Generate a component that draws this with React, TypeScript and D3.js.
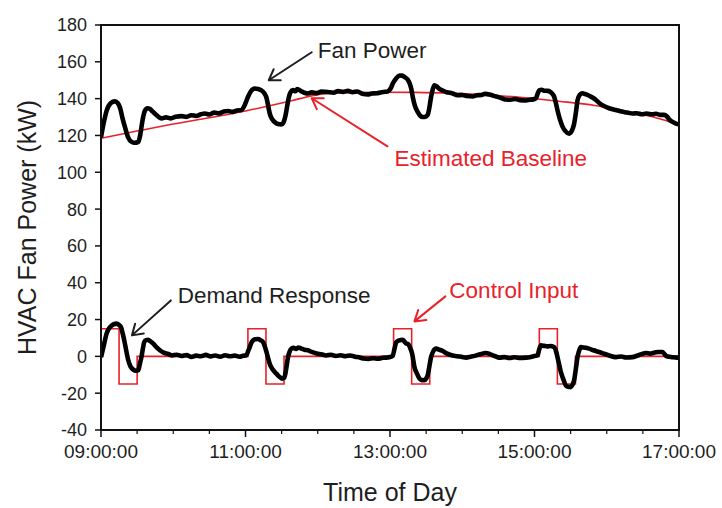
import React from "react";
import * as d3 from "d3";

// Minutes after 09:00 and values (kW)
const fanPower: [number, number][] = [
  [0,119],[2,126],[4.7,133.5],[8,137.5],[11.6,138.5],[14,137.5],[15.8,135],[18,129],[19.9,124.5],[22.5,119],[25.5,116.5],[28,116],[30.9,116.5],[32.5,120],[33.7,125],[35,130],[36.5,133.5],[38.5,134.8],[40.6,134.5],[42.5,133.2],[44.8,131.8],[47.5,130.2],[50.3,129.3],[54,129.8],[58,129.3],[62,130.2],[66.9,130.5],[71,130.1],[75,131],[79,130.6],[83,131.5],[86.2,131.9],[90,131.4],[94,132.4],[98,132],[102,133],[105.5,133.3],[109,132.8],[113,133.6],[116.6,133.8],[119,136],[122.1,141],[124.5,144],[127.6,145.5],[130.5,145.3],[133.2,144.5],[135.5,143],[137.4,140.5],[139,135.5],[140.1,132],[142,129],[144.2,127.3],[147,126.2],[149.8,126],[151.5,127],[153.1,130.4],[154.5,135.5],[155.9,140.5],[157.5,143.5],[159.4,144.6],[161.5,144],[163,145.2],[166.4,144],[169,143.2],[171.9,142.8],[175,143.4],[179,143],[183,143.8],[188.4,143.6],[193,143.2],[197,144.1],[201,143.7],[205,144.2],[209,143.5],[213,143.9],[217,142.6],[221.6,142.3],[225,142.8],[229,142.9],[233,143.5],[236,143.7],[238.2,144],[240.5,145.5],[242.5,148.5],[245.1,151],[248,152.6],[250,152.5],[252,151.8],[254.8,150.2],[256.5,148],[257.6,145.5],[258.9,140.9],[260.5,136.5],[263,132.8],[265,130.8],[267.3,130],[269.5,130.2],[271.3,131.2],[272.8,135.5],[274.1,140.9],[275.5,145],[276.9,147.2],[279,146.5],[281,145.3],[283.8,144.4],[287,143.5],[290,143.2],[292,142.8],[296,141.8],[300,142],[304,141.4],[308.6,141.2],[312,141.8],[316,142],[319,142.6],[322.5,142.3],[326,141.5],[330,140.8],[333,140.2],[336.3,139.5],[340,139.4],[344,139.8],[348,139.2],[352.9,139],[356,139.4],[359,139.6],[361.2,140.2],[362.5,142.5],[363.9,144.5],[366,144.8],[368,144.3],[370.8,144.2],[373,143.8],[375,142.5],[376.4,140.9],[377.8,137.5],[379.1,133.7],[381,129],[383.3,124.8],[385.5,122.5],[388.8,121],[391,122.5],[392.9,126.4],[394.5,133],[395.7,139],[397.5,142],[399.8,142.9],[402,142.5],[405,141.7],[408.1,140.6],[411,139.3],[413.5,137.8],[416.4,136.4],[419,135.6],[422,134.8],[425,134.2],[427.5,133.8],[431,133.2],[435,132.6],[438,132.3],[441.3,131.9],[445,132.1],[449,131.5],[453,131.9],[457.9,131.5],[461,131.8],[464,131.2],[467.6,131.2],[470,130.3],[472,128.6],[474.5,127.4],[477,126.6],[480,126]
];

const estimatedBaseline: [number, number][] = [
  [0,118.5],[30,122.4],[60,126.2],[90,129.6],[120,133.3],[150,137.6],[165,140],[180,142.2],[200,143.2],[230,143.5],[260,143.4],[290,143],[320,142],[350,140.6],[380,138.6],[410,136.3],[440,132.5],[460,129.8],[480,125.8]
];

const demandResponse: [number, number][] = [
  [0,-0.5],[2,5],[4.7,12.5],[7,15.5],[8.9,16.8],[11,17.6],[13,17.8],[15,17],[16.6,15.8],[18,12.5],[19.3,8.7],[21,3],[22.6,-2],[24.5,-5.5],[26.8,-7.2],[29,-7.8],[30.9,-7.6],[32.3,-4],[33.7,0],[35,5],[35.9,7.8],[37.5,8.8],[39.2,9],[41,8.2],[43.4,6.9],[46,5],[48.9,3.3],[52,2],[55.8,1.3],[59,0.5],[63,0.9],[67,0.2],[71,0.7],[75,-0.3],[79,0.4],[83,0.1],[87,0.8],[91,0],[95,0.5],[99,-0.2],[103,0.6],[107,0.1],[111,0.4],[115,-0.2],[118,0.3],[120.8,0.6],[122,2.5],[123.5,5],[125,7.5],[126.3,8.7],[128,9.3],[130.4,9.4],[132.5,8.8],[134.5,7.8],[136,5.5],[137.4,2.4],[138.8,-1],[140.1,-4],[142.5,-7],[145.7,-9.4],[148,-11],[150.3,-12.1],[152,-11.8],[153.1,-9.4],[154.2,-5],[155.3,-0.4],[156.6,2.5],[158.1,4.2],[160,4.6],[162,4],[164,4.8],[166.4,4.2],[169,3.6],[171.9,3.3],[175,2.4],[179,1.6],[183,1.1],[187,0.5],[191,0.9],[195,0.2],[199,0.6],[203,0.1],[207,0.5],[211,-0.2],[215,-0.6],[218,-1.2],[222,-1.4],[226,-1],[230,-1.3],[234,-0.8],[238,-0.6],[241,-0.2],[242.3,0.3],[243.7,4],[245.1,7.6],[247,8.6],[248.5,8.8],[250.6,9],[252,8],[253.4,7],[255,6.7],[256.5,5],[258.4,1.4],[260.3,-5.8],[262.5,-9.5],[264.5,-12.1],[266.5,-12.9],[268.6,-13],[270,-12],[271.3,-10.3],[272.8,-5],[274.1,-0.4],[276,2.8],[278.3,4.2],[281,3.6],[283.8,2.9],[287,1.6],[292,0.5],[296,0.1],[300,-0.4],[303.2,-0.7],[307,-0.2],[311,0.4],[315,1.2],[319.7,1.8],[323,1.2],[327,0.2],[330.8,-0.7],[335,-0.4],[339,-0.9],[343,-0.5],[347,-0.8],[352.9,-0.7],[357,-0.3],[360,0.2],[362.5,0.5],[363.8,3.5],[365.3,6],[368,5.7],[370.8,5.4],[373,5.6],[376.4,5],[378,2.5],[379.1,-0.4],[380.5,-4.5],[381.9,-8.5],[384,-12.5],[386,-15.8],[388,-16.5],[390.2,-16.7],[391.5,-15.5],[392.9,-13],[394.3,-7],[395.7,-0.4],[397,3],[398.5,5],[401,4.8],[405.4,4.2],[409,3.3],[413.7,2.4],[418,1.4],[422,0.5],[427.5,-0.4],[432,-0.1],[436,-0.6],[441.3,-0.4],[445,0.3],[449,1.2],[452.4,1.8],[456,1.5],[460,2.1],[463,2.4],[466.2,2.4],[468,1.2],[469.8,0],[472,-0.2],[475,-0.5],[478.6,-0.7],[480,-0.8]
];

const controlTimes = [0, 0, 15, 30, 122, 137, 152, 243, 258, 273, 364, 379, 394, 480];
const controlValues = [0, 15, -15, 0, 15, -15, 0, 15, -15, 0, 15, -15, 0, 0];

const yTicks = [-40, -20, 0, 20, 40, 60, 80, 100, 120, 140, 160, 180];
const xMajorTicks = [0, 120, 240, 360, 480];
const xMajorLabels = ["09:00:00", "11:00:00", "13:00:00", "15:00:00", "17:00:00"];
const xMinorTicks = [30, 60, 90, 150, 180, 210, 270, 300, 330, 390, 420, 450];

const RED = "#e8222a";
const INK = "#1e1e1e";
const FONT = "'Liberation Sans', Arial, sans-serif";

const W = 722, H = 508;
const L = 101, R = 679, T = 25, B = 430;

function Arrow({ x1, y1, x2, y2, color }: { x1: number; y1: number; x2: number; y2: number; color: string }) {
  const ang = Math.atan2(y2 - y1, x2 - x1);
  const len = 12, spread = Math.PI / 5.5;
  const a1 = ang + Math.PI - spread, a2 = ang + Math.PI + spread;
  const d = `M${x1},${y1}L${x2},${y2}M${x2 + len * Math.cos(a1)},${y2 + len * Math.sin(a1)}L${x2},${y2}L${x2 + len * Math.cos(a2)},${y2 + len * Math.sin(a2)}`;
  return <path d={d} fill="none" stroke={color} strokeWidth={2} strokeLinecap="round" strokeLinejoin="round" />;
}

export default function App() {
  const x = d3.scaleLinear().domain([0, 480]).range([L, R]);
  const y = d3.scaleLinear().domain([-40, 180]).range([B, T]);

  const smooth = d3.line<[number, number]>().x(d => x(d[0])).y(d => y(d[1])).curve(d3.curveMonotoneX);
  const step = d3.line<number>().x(i => x(controlTimes[i])).y(i => y(controlValues[i])).curve(d3.curveStepAfter);
  const idx = controlTimes.map((_, i) => i);

  return (
    <svg width={W} height={H} style={{ position: "absolute", left: 0, top: 0, background: "#fff" }} fontFamily={FONT}>
      <rect x={0} y={0} width={W} height={H} fill="#fff" />
      <defs>
        <clipPath id="plot"><rect x={L} y={T} width={R - L} height={B - T} /></clipPath>
      </defs>

      <g clipPath="url(#plot)">
        <path d={step(idx) || ""} fill="none" stroke={RED} strokeWidth={1.6} />
        <path d={smooth(estimatedBaseline) || ""} fill="none" stroke={RED} strokeWidth={1.6} />
        <path d={smooth(fanPower) || ""} fill="none" stroke="#000" strokeWidth={4.6} strokeLinejoin="round" />
        <path d={smooth(demandResponse) || ""} fill="none" stroke="#000" strokeWidth={4.6} strokeLinejoin="round" />
      </g>

      {/* frame */}
      <rect x={L} y={T} width={R - L} height={B - T} fill="none" stroke="#111" strokeWidth={2} />

      {/* y axis ticks */}
      {yTicks.map(v => (
        <g key={v}>
          <line x1={L - 6} x2={L} y1={y(v)} y2={y(v)} stroke="#111" strokeWidth={1.5} />
          <text x={L - 14} y={y(v)} dy="0.36em" textAnchor="end" fontSize={18} fill={INK}>{v}</text>
        </g>
      ))}

      {/* x axis ticks */}
      {xMajorTicks.map((t, i) => (
        <g key={t}>
          <line x1={x(t)} x2={x(t)} y1={B} y2={B + 7} stroke="#111" strokeWidth={1.5} />
          <text x={x(t)} y={B + 27.5} textAnchor="middle" fontSize={19} fill={INK}>{xMajorLabels[i]}</text>
        </g>
      ))}
      {xMinorTicks.map(t => (
        <line key={t} x1={x(t)} x2={x(t)} y1={B} y2={B + 4} stroke="#111" strokeWidth={1.2} />
      ))}

      {/* axis titles */}
      <text x={x(240)} y={501} textAnchor="middle" fontSize={25} fill={INK}>Time of Day</text>
      <text transform={`translate(36,${(T + B) / 2}) rotate(-90)`} textAnchor="middle" fontSize={25} fill={INK}>HVAC Fan Power (kW)</text>

      {/* annotations */}
      <text x={x(180)} y={y(166.3)} dy="0.35em" fontSize={22.5} fill={INK}>Fan Power</text>
      <Arrow x1={x(175)} y1={y(165.2)} x2={x(139.3)} y2={y(150)} color={INK} />

      <text x={x(243.7)} y={y(107.6)} dy="0.35em" fontSize={22.5} fill={RED}>Estimated Baseline</text>
      <Arrow x1={x(237.9)} y1={y(114.1)} x2={x(175)} y2={y(140.2)} color={RED} />

      <text x={x(63.8)} y={y(33.2)} dy="0.35em" fontSize={22.5} fill={INK}>Demand Response</text>
      <Arrow x1={x(58)} y1={y(30.4)} x2={x(25.7)} y2={y(11.4)} color={INK} />

      <text x={x(289.3)} y={y(35.9)} dy="0.35em" fontSize={22.5} fill={RED}>Control Input</text>
      <Arrow x1={x(286)} y1={y(32.6)} x2={x(260.3)} y2={y(19)} color={RED} />
    </svg>
  );
}
